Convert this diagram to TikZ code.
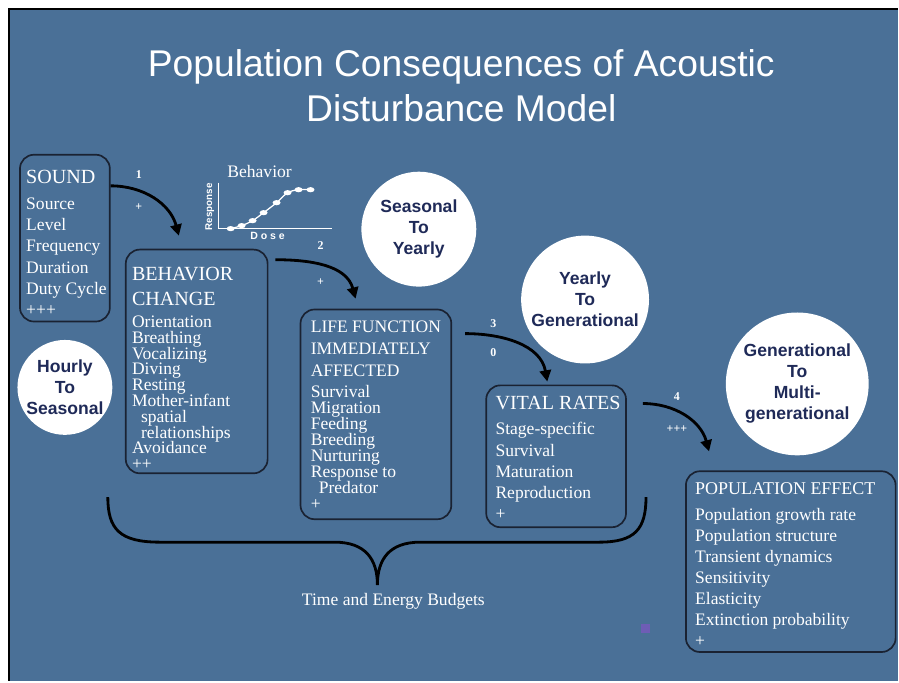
\documentclass[tikz,border=0pt]{standalone}
\usepackage{fontspec}
\setmainfont{Liberation Serif}
\newfontfamily\headsans{Liberation Sans}
\usetikzlibrary{arrows.meta,calc}
\definecolor{slate}{HTML}{4A7097}
\definecolor{navy}{HTML}{1F2A58}
\definecolor{rim}{HTML}{1A2232}
\definecolor{speck}{HTML}{6E5DB5}
\newcommand{\tightlines}{\lineskiplimit-5pt\relax}

\begin{document}
\begin{tikzpicture}[x=0.025cm,y=0.025cm]
\tikzstyle{card}=[draw=rim, line width=1.2pt, rounded corners=10pt, inner sep=0pt]
\tikzstyle{ctxt}=[anchor=north west, inner sep=0pt, align=left, text=white]
\tikzstyle{bub}=[circle, fill=white, inner sep=0pt, align=center, text=navy,
                 font=\headsans\bfseries\fontsize{12.5}{15}\selectfont]
\tikzstyle{flow}=[line width=2pt, -{Triangle[length=8pt,width=8pt]}]
\tikzstyle{num}=[text=white, inner sep=0pt, font=\bfseries\fontsize{8.5}{9}\selectfont]
% slide
\fill[white] (0,0) rectangle (899,-682);
\fill[slate] (9,-9) rectangle (899,-682);
\draw[line width=2pt] (9,-682) -- (9,-9) -- (899,-9);
\useasboundingbox (0,0) rectangle (899,-682);
\node[text=white, align=center, inner sep=0pt,
      font=\headsans\fontsize{26.5}{32}\selectfont] (title) at (462,-86)
      {Population Consequences of Acoustic\\Disturbance Model};
% boxes
	\node[card, minimum width=2.25cm, minimum height=4.175cm] (sound) at (65,-238.5){};
	\node[card, minimum width=3.55cm, minimum height=5.6cm] (behav) at (197,-362){};
	\node[card, minimum width=3.775cm, minimum height=5.25cm] (life) at (376.5,-415){};
	\node[card, minimum width=3.5cm, minimum height=3.55cm] (vital) at (557,-457){};
	\node[card, minimum width=5.25cm, minimum height=4.525cm] (pop) at (792,-562.5){};
\node[ctxt, font=\fontsize{12.5}{15}\selectfont] (soundtxt) at (26,-170)
  {{\fontsize{14.3}{15}\selectfont SOUND}\\[3.9pt]
   Source\\ Level\\ Frequency\\ Duration\\ Duty Cycle\\ +++};
\node[ctxt, font=\fontsize{12.5}{11.25}\selectfont\tightlines] (behavtxt) at (132,-267)
  {{\fontsize{14.3}{15}\selectfont BEHAVIOR}\\[6.5pt]
   {\fontsize{14.3}{15}\selectfont CHANGE}\\[4.75pt]
   Orientation\\ Breathing\\ Vocalizing\\ Diving\\ Resting\\ Mother-infant\\
   \hspace*{6.4pt}spatial\\ \hspace*{6.4pt}relationships\\ Avoidance\\ ++};
\node[ctxt, font=\fontsize{12.5}{11.4}\selectfont\tightlines] (lifetxt) at (311,-321)
  {LIFE FUNCTION\\[4.2pt] IMMEDIATELY\\[4.2pt] AFFECTED\\[3.6pt]
   Survival\\ Migration\\ Feeding\\ Breeding\\ Nurturing\\ Response to\\
   \hspace*{5.7pt}Predator\\ +};
\node[ctxt, font=\fontsize{12.5}{15}\selectfont] (vitaltxt) at (496,-397)
  {{\fontsize{14.3}{15}\selectfont VITAL RATES}\\[2.8pt]
   Stage-specific\\ Survival\\ Maturation\\ Reproduction\\ +};
\node[ctxt, font=\fontsize{12.5}{15}\selectfont] (poptxt) at (696,-483)
  {{\fontsize{12.8}{15}\selectfont POPULATION EFFECT}\\[3.5pt]
   Population growth rate\\ Population structure\\ Transient dynamics\\
   Sensitivity\\ Elasticity\\ Extinction probability\\ +};
% time scales
	\node[bub, minimum size=2.375cm] (hourly) at (65,-388){Hourly\\To\\Seasonal};
	\node[bub, minimum size=2.875cm] (season) at (419.5,-229.5){Seasonal\\To\\Yearly};
	\node[bub, minimum size=3.2cm] (yearly) at (586,-300){Yearly\\To\\Generational};
	\node[bub, minimum size=3.575cm] (gener) at (798.5,-384.5){Generational\\To\\Multi-\\generational};
% transfer functions
\draw[flow] ($(sound.north east)+(0,-32)$) to[out=0, in=105] ($(behav.north west)+(54,13)$);
\draw[flow] ($(behav.north east)+(7,-11)$) to[out=0, in=105] ($(life.north west)+(56,10)$);
\draw[flow] ($(life.north east)+(13,-25)$) to[out=0, in=100] ($(vital.north west)+(62,3)$);
\draw[flow] ($(vital.north east)+(16,-19)$) to[out=0, in=105] ($(pop.north west)+(24,19)$);
	\node[num] (n1) at (139,-175){1};
	\node[num] (s1) at (139,-207){+};
	\node[num] (n2) at (321,-246){2};
	\node[num] (s2) at (321,-283){+};
	\node[num] (n3) at (494,-324){3};
	\node[num] (s3) at (494,-353){0};
	\node[num] (n4) at (678,-397){4};
	\node[num] (s4) at (678,-430){+++};
% dose-response inset
\node[text=white, font=\fontsize{12.5}{14}\selectfont] (behtitle) at (260,-172){Behavior};
\draw[white, line width=0.9pt] (219,-183) -- (219,-229) -- (333,-229);
\draw[white, line width=0.9pt] plot[smooth] coordinates {(231,-229) (242,-226) (253,-221)
  (264,-213) (277,-203) (288,-193) (299,-190) (311,-190)};
\foreach \p in {(231,-229),(242,-226),(253,-221),(264,-213),(277,-203),(288,-193),(299,-190),(311,-190)}
  \fill[white] \p ellipse (4 and 2.6);
\node[rotate=90, text=white, inner sep=0pt,
      font=\headsans\bfseries\fontsize{7}{8}\selectfont] (resp) at (210,-207){Response};
\node[text=white, inner sep=0pt,
      font=\headsans\bfseries\fontsize{7.5}{8}\selectfont] (dose) at (268,-236){D o s e};
% budgets brace
\draw[line width=2pt] (108,-498) .. controls (108,-530) and (120,-543) .. (160,-543)
  -- (335,-543) .. controls (366,-543) and (378,-560) .. (378,-586)
  .. controls (378,-560) and (390,-543) .. (421,-543) -- (600,-543)
  .. controls (636,-543) and (647,-530) .. (647,-498);
\node[text=white, font=\fontsize{12.5}{14}\selectfont] (budget) at (394,-602){Time and Energy Budgets};
\fill[speck] (642,-625) rectangle (651,-634);
\end{tikzpicture}
\end{document}
